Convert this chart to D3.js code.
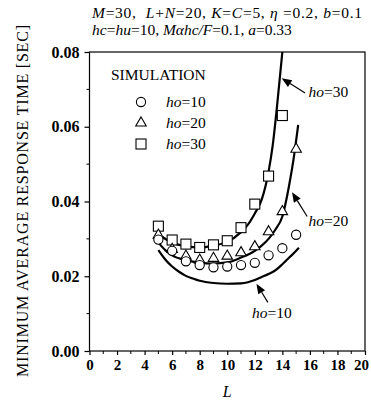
<!DOCTYPE html>
<html>
<head>
<meta charset="utf-8">
<script src="https://cdn.jsdelivr.net/npm/d3@7"></script>
<style>
  html, body { margin: 0; padding: 0; background: #fff; }
  svg { display: block; }
  text { font-family: "Liberation Serif", "DejaVu Serif", serif; fill: #000; white-space: pre; }
</style>
</head>
<body>
<svg id="chart" width="371" height="408" font-family="Liberation Serif"></svg>
<script>
// Simulated minimum average response time for each ho setting
const simL = [5, 6, 7, 8, 9, 10, 11, 12, 13, 14, 15];
const simHo10 = [0.0298, 0.0268, 0.0240, 0.0230, 0.0224, 0.0226, 0.0230, 0.0236, 0.0256, 0.0275, 0.0311];
const simHo20 = [0.0310, 0.0272, 0.0254, 0.0243, 0.0248, 0.0254, 0.0263, 0.0279, 0.0319, 0.0373, 0.0540];
const simL30 = [5, 6, 7, 8, 9, 10, 11, 12, 13, 14];
const simHo30 = [0.0334, 0.0297, 0.0286, 0.0277, 0.0284, 0.0295, 0.0330, 0.0393, 0.0468, 0.0630];

// Analytical curves
const curveL10 = [5.0, 5.5, 6.0, 6.5, 7.0, 7.5, 8.0, 9.0, 10.0, 11.0, 11.5, 12.0, 12.5, 13.0, 13.5, 14.0, 14.5, 15.0, 15.2];
const curveHo10 = [0.0270, 0.0245, 0.0226, 0.0212, 0.0201, 0.0194, 0.0188, 0.0182, 0.0180, 0.0181, 0.0184, 0.0190, 0.0198, 0.0206, 0.0216, 0.0232, 0.0250, 0.0268, 0.0276];
const curveL20 = [5.0, 5.5, 6.0, 7.0, 8.0, 9.0, 10.0, 11.0, 12.0, 12.5, 13.0, 13.5, 14.0, 14.5, 14.8, 15.15];
const curveHo20 = [0.0290, 0.0270, 0.0256, 0.0243, 0.0236, 0.0234, 0.0237, 0.0250, 0.0268, 0.0282, 0.0300, 0.0325, 0.0360, 0.0445, 0.0510, 0.0605];
const curveL30 = [5.3, 6.0, 7.0, 8.0, 9.0, 10.0, 11.0, 11.5, 12.0, 12.5, 13.0, 13.3, 13.6, 14.0];
const curveHo30 = [0.0305, 0.0290, 0.0280, 0.0277, 0.0282, 0.0292, 0.0318, 0.0338, 0.0368, 0.0405, 0.0480, 0.0550, 0.0650, 0.0800];

// Axis ticks
const xTicks = [0, 2, 4, 6, 8, 10, 12, 14, 16, 18, 20];
const xMinor = [1, 3, 5, 7, 9, 11, 13, 15, 17, 19];
const yTicks = [0.00, 0.02, 0.04, 0.06, 0.08];
const yMinor = [0.01, 0.03, 0.05, 0.07];

const legendLabels = ["=10", "=20", "=30"];

const svg = d3.select("#chart");
const plotLeft = 89.5, plotRight = 365, plotTop = 52, plotBottom = 351;
const serif = "Liberation Serif";

const x = d3.scaleLinear().domain([0, 20]).range([plotLeft, plotRight]);
const y = d3.scaleLinear().domain([0, 0.08]).range([plotBottom, plotTop]);

// Text with italic variable names
function richText(g, xPos, yPos, parts, size) {
  const t = g.append("text").attr("x", xPos).attr("y", yPos)
    .attr("font-size", size).attr("font-family", serif);
  parts.forEach(p => {
    t.append("tspan").text(p[0]).attr("font-style", p[1] ? "italic" : "normal");
  });
  return t;
}

richText(svg, 92, 18, [
  ["M", 1], ["=30,  ", 0], ["L", 1], ["+", 0], ["N", 1], ["=20, ", 0],
  ["K", 1], ["=", 0], ["C", 1], ["=5, ", 0], ["\u03b7", 1], [" =0.2, ", 0],
  ["b", 1], ["=0.1", 0]
], 15.5).attr("textLength", 270).attr("lengthAdjust", "spacing");

richText(svg, 92, 35, [
  ["hc", 1], ["=", 0], ["hu", 1], ["=10, ", 0], ["M\u03b1hc/F", 1], ["=0.1, ", 0],
  ["a", 1], ["=0.33", 0]
], 15.5);

// Frame
svg.append("rect")
  .attr("x", plotLeft).attr("y", plotTop)
  .attr("width", plotRight - plotLeft).attr("height", plotBottom - plotTop)
  .attr("fill", "none").attr("stroke", "#000").attr("stroke-width", 1.2);

// Axes
const xAxis = d3.axisBottom(x).tickValues(xTicks).tickSize(4).tickFormat(d3.format("d"));
const gx = svg.append("g").attr("transform", `translate(0,${plotBottom})`).call(xAxis)
  .attr("font-family", serif);
gx.select(".domain").remove();
gx.selectAll("line").attr("stroke-width", 1.2);
gx.selectAll("text").attr("font-size", 15).attr("font-weight", "bold")
  .attr("font-family", serif).attr("dy", "0.95em").attr("y", 5)
  .attr("dx", d => d === 20 ? -4 : 0);

svg.append("g").selectAll("line").data(xMinor).join("line")
  .attr("x1", d => x(d)).attr("x2", d => x(d))
  .attr("y1", plotBottom).attr("y2", plotBottom + 3)
  .attr("stroke", "#000").attr("stroke-width", 1);

const yAxis = d3.axisLeft(y).tickValues(yTicks).tickSize(5).tickFormat(d3.format(".2f"));
const gy = svg.append("g").attr("transform", `translate(${plotLeft},0)`).call(yAxis)
  .attr("font-family", serif);
gy.select(".domain").remove();
gy.selectAll("line").attr("stroke-width", 1.2);
gy.selectAll("text").attr("font-size", 16).attr("font-weight", "bold")
  .attr("font-family", serif).attr("x", -10);

svg.append("g").selectAll("line").data(yMinor).join("line")
  .attr("x1", plotLeft).attr("x2", plotLeft - 3)
  .attr("y1", d => y(d)).attr("y2", d => y(d))
  .attr("stroke", "#000").attr("stroke-width", 1);

// Axis titles
svg.append("text").attr("x", (plotLeft + plotRight) / 2).attr("y", 397)
  .attr("text-anchor", "middle").attr("font-size", 16).attr("font-family", serif)
  .attr("font-style", "italic").text("L");

svg.append("text")
  .attr("transform", `translate(28,201) rotate(-90)`)
  .attr("text-anchor", "middle").attr("font-size", 16).attr("font-family", serif)
  .attr("textLength", 352).attr("lengthAdjust", "spacing")
  .text("MINIMUM AVERAGE RESPONSE TIME [SEC]");

// Analytical curves
const line = d3.line().x(d => x(d[0])).y(d => y(d[1])).curve(d3.curveMonotoneX);
const curves = [
  d3.zip(curveL10, curveHo10),
  d3.zip(curveL20, curveHo20),
  d3.zip(curveL30, curveHo30)
];
svg.append("g").selectAll("path").data(curves).join("path")
  .attr("d", line).attr("fill", "none").attr("stroke", "#000").attr("stroke-width", 2.2);

// Markers
function styled(sel) {
  return sel.attr("fill", "#fff").attr("stroke", "#000").attr("stroke-width", 1.1);
}
const gm = svg.append("g");
styled(gm.selectAll(".sq").data(d3.zip(simL30, simHo30)).join("rect").attr("class", "sq")
  .attr("x", d => x(d[0]) - 5).attr("y", d => y(d[1]) - 5)
  .attr("width", 10).attr("height", 10));
styled(gm.selectAll(".tri").data(d3.zip(simL, simHo20)).join("path").attr("class", "tri")
  .attr("d", d3.symbol(d3.symbolTriangle, 48))
  .attr("transform", d => `translate(${x(d[0])},${y(d[1])})`));
styled(gm.selectAll(".ci").data(d3.zip(simL, simHo10)).join("circle").attr("class", "ci")
  .attr("cx", d => x(d[0])).attr("cy", d => y(d[1])).attr("r", 4.6));

// Legend
const lg = svg.append("g");
lg.append("text").attr("x", 111).attr("y", 80).attr("font-size", 15.5)
  .attr("font-family", serif).text("SIMULATION");
const legendY = [102, 123, 144];
styled(lg.append("circle").attr("cx", 141).attr("cy", legendY[0]).attr("r", 4.6));
styled(lg.append("path").attr("d", d3.symbol(d3.symbolTriangle, 48))
  .attr("transform", `translate(141,${legendY[1]})`));
styled(lg.append("rect").attr("x", 136).attr("y", legendY[2] - 5).attr("width", 10).attr("height", 10));
legendLabels.forEach((lab, i) => {
  richText(lg, 166, legendY[i] + 5, [["ho", 1], [lab, 0]], 15.5);
});

// Labels with arrows pointing at each curve
const annotations = [
  { label: "=30", tip: [13.95, 0.0730], tail: [15.65, 0.0690], text: [15.9, 0.0680] },
  { label: "=20", tip: [14.70, 0.0425], tail: [15.80, 0.0360], text: [15.9, 0.0335] },
  { label: "=10", tip: [12.12, 0.0180], tail: [12.95, 0.0130], text: [11.8, 0.0088] }
];
const ag = svg.append("g");
annotations.forEach(a => {
  const tx = x(a.tip[0]), ty = y(a.tip[1]);
  const sx = x(a.tail[0]), sy = y(a.tail[1]);
  const ang = Math.atan2(ty - sy, tx - sx);
  const hl = 10, hw = 4;
  const bx = tx - hl * Math.cos(ang), by = ty - hl * Math.sin(ang);
  ag.append("line").attr("x1", sx).attr("y1", sy).attr("x2", bx).attr("y2", by)
    .attr("stroke", "#000").attr("stroke-width", 1.2);
  ag.append("path")
    .attr("d", `M${tx},${ty}L${bx + hw * Math.sin(ang)},${by - hw * Math.cos(ang)}L${bx - hw * Math.sin(ang)},${by + hw * Math.cos(ang)}Z`)
    .attr("fill", "#000");
  richText(ag, x(a.text[0]), y(a.text[1]), [["ho", 1], [a.label, 0]], 15.5);
});
</script>
</body>
</html>
